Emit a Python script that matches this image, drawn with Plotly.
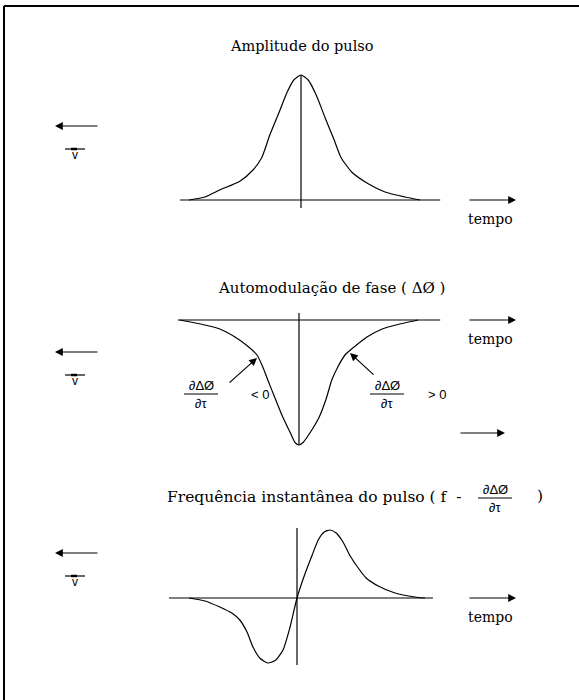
import plotly.graph_objects as go

W, H = 579, 700

# ---- data (time in pulse units, amplitudes normalised) ----
amp_t = [-2.8, -2.4, -2.03, -1.53, -1.2, -0.98, -0.78, -0.55, -0.35, -0.18, 0.0,
         0.18, 0.38, 0.6, 0.83, 1.0, 1.28, 1.68, 2.1, 2.6, 2.98]
amp_v = [0.0, 0.024, 0.08, 0.15, 0.24, 0.34, 0.52, 0.70, 0.86, 0.96, 1.0,
         0.96, 0.84, 0.66, 0.48, 0.34, 0.22, 0.13, 0.064, 0.024, 0.0]

spm_t = [-2.98, -2.35, -1.98, -1.6, -1.28, -1.05, -0.9, -0.78, -0.58, -0.4, -0.22, -0.1, 0.0,
         0.1, 0.28, 0.5, 0.68, 0.82, 0.98, 1.15, 1.4, 1.7, 2.08, 2.42, 2.98]
spm_v = [0.0, -0.04, -0.072, -0.136, -0.21, -0.28, -0.38, -0.48, -0.64, -0.78, -0.90, -0.98, -1.0,
         -0.98, -0.90, -0.78, -0.63, -0.48, -0.37, -0.28, -0.21, -0.136, -0.072, -0.04, 0.0]

freq_t = [-2.7, -2.3, -1.93, -1.63, -1.43, -1.25, -1.1, -0.93, -0.73, -0.53, -0.35, -0.18, 0.0,
          0.18, 0.38, 0.53, 0.68, 0.83, 0.98, 1.15, 1.33, 1.53, 1.73, 2.03, 2.45, 2.95, 3.2]
freq_v = [0.0, -0.024, -0.072, -0.12, -0.176, -0.272, -0.392, -0.48, -0.52, -0.496, -0.416, -0.24, 0.0,
          0.176, 0.344, 0.464, 0.528, 0.544, 0.52, 0.448, 0.336, 0.24, 0.16, 0.096, 0.04, 0.008, 0.0]

titles = ["Amplitude do pulso", "Automodulação de fase ( ΔØ )",
          "Frequência instantânea do pulso ( f  -"]
time_label = "tempo"
frac_num, frac_den = "∂ΔØ", "∂τ"

# ---- panel geometry (pixels) ----
CX = [301, 299, 297]          # origin x of each panel
BASE = [200, 320, 598]        # baseline y of each panel
SX, SY = 40.0, 125.0          # pixels per unit
AXIS_T = [(-3.03, 3.48), (-3.03, 3.53), (-3.2, 3.4)]
AXIS_V = [(-0.064, 1.0), (-1.0, 0.056), (-0.536, 0.56)]

SERIF = "DejaVu Serif"
SANS = "Arial"
INK = "black"

fig = go.Figure()
curves = [(amp_t, amp_v), (spm_t, spm_v), (freq_t, freq_v)]
shapes, annos = [], []


def px(x):
    return x / W


def py(y):
    return 1 - y / H


for k, (t, v) in enumerate(curves):
    suf = "" if k == 0 else str(k + 1)
    fig.add_trace(go.Scatter(x=t, y=v, mode="lines", xaxis="x" + suf, yaxis="y" + suf,
                             line=dict(color=INK, width=1.2, shape="spline", smoothing=0.6),
                             hoverinfo="skip", showlegend=False))
    xr = [(0 - CX[k]) / SX, (W - CX[k]) / SX]
    yr = [(BASE[k] - H) / SY, BASE[k] / SY]
    fig.update_layout(**{
        "xaxis" + suf: dict(domain=[0, 1], range=xr, visible=False, anchor="y" + suf),
        "yaxis" + suf: dict(domain=[0, 1], range=yr, visible=False, anchor="x" + suf),
    })
    xa, ya = "x" + suf, "y" + suf
    # time axis and vertical axis of the panel
    shapes.append(dict(type="line", xref=xa, yref=ya, x0=AXIS_T[k][0], x1=AXIS_T[k][1],
                       y0=0, y1=0, line=dict(color=INK, width=1.2)))
    shapes.append(dict(type="line", xref=xa, yref=ya, x0=0, x1=0,
                       y0=AXIS_V[k][0], y1=AXIS_V[k][1], line=dict(color=INK, width=1.2)))

# frame (top and left edges)
shapes.append(dict(type="line", xref="paper", yref="paper", x0=px(4), x1=1, y0=py(6), y1=py(6),
                   line=dict(color=INK, width=2)))
shapes.append(dict(type="line", xref="paper", yref="paper", x0=px(4), x1=px(4), y0=py(6), y1=0,
                   line=dict(color=INK, width=2)))


def arrow(hx, hy, tx, ty, size=1.3, width=1.2):
    annos.append(dict(x=px(hx), y=py(hy), xref="paper", yref="paper", text="",
                      showarrow=True, arrowhead=2, arrowsize=size, arrowwidth=width,
                      arrowcolor=INK, ax=tx - hx, ay=ty - hy, axref="pixel", ayref="pixel"))


def text(x, y, s, size=15, font=SERIF, xanchor="center"):
    annos.append(dict(x=px(x), y=py(y), xref="paper", yref="paper", text=s, showarrow=False,
                      xanchor=xanchor, yanchor="middle",
                      font=dict(family=font, size=size, color=INK)))


def fraction(cx, cy, size=13, half=17):
    text(cx, cy - 8, frac_num, size=size, font=SANS)
    text(cx, cy + 9, frac_den, size=size, font=SANS)
    shapes.append(dict(type="line", xref="paper", yref="paper", x0=px(cx - half), x1=px(cx + half),
                       y0=py(cy), y1=py(cy), line=dict(color=INK, width=1)))


# per-panel decorations
LEFT_ARROW_Y = [126, 352, 553]
for k in range(3):
    b = BASE[k]
    # group velocity marker on the left
    arrow(55, LEFT_ARROW_Y[k], 99, LEFT_ARROW_Y[k])
    vy = LEFT_ARROW_Y[k] + 23
    shapes.append(dict(type="line", xref="paper", yref="paper", x0=px(65), x1=px(85),
                       y0=py(vy), y1=py(vy), line=dict(color=INK, width=1.2)))
    shapes.append(dict(type="line", xref="paper", yref="paper", x0=px(71), x1=px(77),
                       y0=py(vy), y1=py(vy), line=dict(color=INK, width=2.5)))
    text(75, vy + 6, "v", size=12, font=SANS)
    # time arrow and label
    arrow(516, b, 468, b)
    text(490, b + 19, time_label, size=14)

# titles
text(301, 46, titles[0], size=14.5)
text(331, 288, titles[1], size=15)
text(463, 497, titles[2], size=15.5, xanchor="right")
fraction(495, 498)
text(540, 496, ")", size=15.5)

# slope annotations on the phase curve
arrow(257, 358, 228, 384)
arrow(350, 353, 375, 376)
fraction(201, 394)
text(260, 394, "< 0", size=13, font=SANS)
fraction(387, 394)
text(437, 394, "> 0", size=13, font=SANS)
arrow(505, 433, 459, 433)

fig.update_layout(width=W, height=H, margin=dict(l=0, r=0, t=0, b=0),
                  paper_bgcolor="white", plot_bgcolor="rgba(0,0,0,0)",
                  shapes=shapes, annotations=annos, showlegend=False)
fig.write_html("out.html")
